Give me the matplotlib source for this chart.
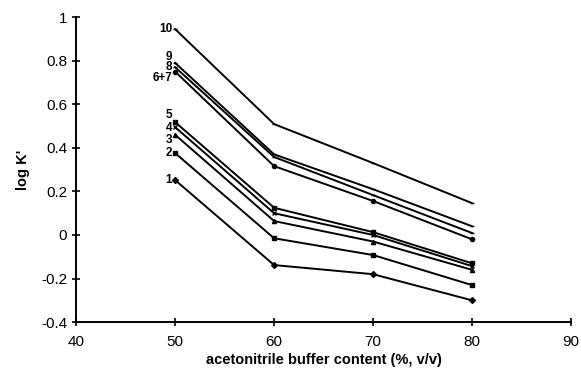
import numpy as np
import matplotlib; matplotlib.use('Agg'); import matplotlib.pyplot as plt

plt.rcParams['font.family'] = ['Liberation Sans', 'DejaVu Sans']

acn = [50, 60, 70, 80]
labels = ['1', '2', '3', '4', '5', '6+7', '8', '9', '10']
logk = {
    '1':   [0.252, -0.138, -0.180, -0.300],
    '2':   [0.376, -0.015, -0.092, -0.230],
    '3':   [0.460, 0.064, -0.030, -0.160],
    '4':   [0.495, 0.100, 0.000, -0.143],
    '5':   [0.518, 0.125, 0.013, -0.130],
    '6+7': [0.750, 0.316, 0.156, -0.020],
    '8':   [0.770, 0.358, 0.183, 0.009],
    '9':   [0.790, 0.370, 0.210, 0.040],
    '10':  [0.945, 0.509, 0.330, 0.146],
}
markers = ['D', 's', '^', 'x', 's', 'o', '_', '_', '_']
# label nudges (points) so stacked labels don't overlap
dy = {'1': 0, '2': 0, '3': -4, '4': -0.5, '5': 5, '6+7': -4.5, '8': 0, '9': 4.5, '10': 0}

fig = plt.figure(figsize=(5.81, 3.72), dpi=100)
ax = fig.add_axes([0.131, 0.134, 0.852, 0.820])
for lab, m in zip(labels, markers):
    y = logk[lab]
    ax.plot(acn, y, color='black', lw=1.4, marker=m, ms=3, mew=1)
    ax.annotate(lab, (acn[0], y[0]), xytext=(-2, dy[lab]), textcoords='offset points',
                ha='right', va='center', fontsize=8.5, fontweight='bold')

ax.set_xlim(40, 90)
ax.set_ylim(-0.4, 1)
ax.set_xticks(np.arange(40, 91, 10))
ax.set_yticks(np.arange(-0.4, 1.01, 0.2))
ax.set_yticklabels(['-0.4', '-0.2', '0', '0.2', '0.4', '0.6', '0.8', '1'])
for s in ['top', 'right']:
    ax.spines[s].set_visible(False)
for s in ['left', 'bottom']:
    ax.spines[s].set_linewidth(1.4)
ax.tick_params(direction='inout', length=6, width=1.2, labelsize=11)
ax.tick_params(axis='x', pad=6)
ax.set_xlabel('acetonitrile buffer content (%, v/v)', fontweight='bold', fontsize=10.5, labelpad=3)
ax.set_ylabel("log K'", fontweight='bold', fontsize=10.5, labelpad=8)
fig.savefig('out.png', dpi=100)
